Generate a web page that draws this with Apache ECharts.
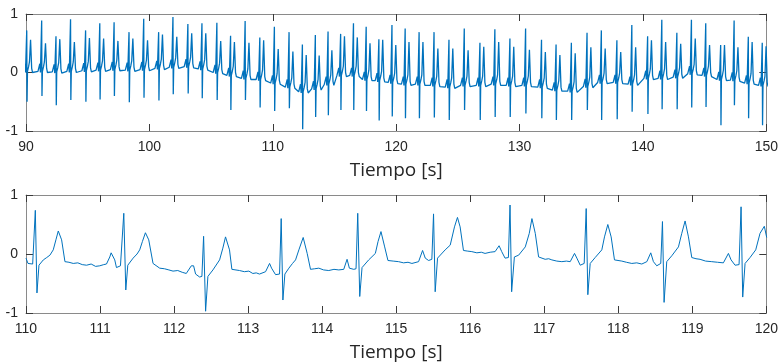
<!DOCTYPE html>
<html><head><meta charset="utf-8">
<script src="https://cdn.jsdelivr.net/npm/echarts/dist/echarts.min.js"></script>
<style>html,body{margin:0;padding:0;background:#fff}#c{width:781px;height:364px}</style>
</head><body><div id="c"></div>
<script>
// ---- Top panel (90-150 s): one entry per heartbeat ----
const topBeatTime = [90.06,91.27,92.43,93.61,94.83,95.98,97.14,98.35,99.54,100.75,101.91,103.12,104.26,105.47,106.58,107.76,108.95,
  110.13,111.32,112.40,113.45,114.48,115.50,116.54,117.57,118.60,119.66,
  120.73,121.86,123.07,124.28,125.52,126.79,128.00,129.22,
  130.49,131.78,132.96,134.20,135.47,136.63,137.89,139.10,140.38,141.53,142.75,143.93,145.09,146.30,147.39,148.54,149.67];
const topBeatR = [0.72,0.89,0.62,0.91,0.72,0.84,0.86,0.69,0.92,0.69,0.95,0.83,0.84,0.85,0.63,0.88,0.60,
  0.78,0.69,0.48,0.64,0.70,0.66,0.84,0.78,0.57,0.81,
  0.75,0.69,0.69,0.56,0.75,0.51,0.74,0.58,
  0.75,0.56,0.48,0.51,0.68,0.72,0.55,0.81,0.62,0.90,0.68,0.90,0.84,0.47,0.89,0.61,0.51];
const topBeatS = [-0.50,-0.40,-0.56,-0.47,-0.50,-0.46,-0.40,-0.51,-0.43,-0.48,-0.37,-0.36,-0.44,-0.47,-0.64,-0.47,-0.60,
  -0.66,-0.61,-0.97,-0.76,-0.73,-0.64,-0.64,-0.66,-0.82,-0.75,
  -0.78,-0.78,-0.77,-0.81,-0.64,-0.81,-0.76,-0.76,
  -0.70,-0.78,-0.81,-0.81,-0.64,-0.81,-0.80,-0.67,-0.71,-0.63,-0.63,-0.60,-0.59,-0.90,-0.56,-0.78,-0.90];
const topBeatT = [0.56,0.50,0.57,0.52,0.59,0.58,0.54,0.58,0.55,0.65,0.61,0.67,0.67,0.54,0.52,0.51,0.55,
  0.40,0.36,0.30,0.29,0.38,0.62,0.60,0.50,0.56,0.47,
  0.52,0.52,0.41,0.41,0.38,0.44,0.52,0.44,
  0.39,0.35,0.30,0.33,0.43,0.41,0.35,0.43,0.55,0.52,0.49,0.58,0.47,0.47,0.43,0.52,0.45];
const topBeatBase = [0.02,0.02,0.01,0.02,0.03,0.04,0.05,0.04,0.05,0.07,0.09,0.10,0.06,0.00,-0.05,-0.10,-0.12,
  -0.18,-0.25,-0.33,-0.28,-0.20,-0.05,-0.05,-0.12,-0.14,-0.17,
  -0.20,-0.20,-0.22,-0.25,-0.22,-0.22,-0.20,-0.22,
  -0.22,-0.25,-0.30,-0.32,-0.24,-0.17,-0.17,-0.20,-0.10,-0.10,-0.08,-0.02,-0.05,-0.12,-0.13,-0.18,-0.22];

// ---- Bottom panel (110-120 s): polyline vertices ----
const bottomTime = [110.000,110.027,110.054,110.090,110.108,110.126,110.148,110.175,110.234,110.280,110.323,110.368,110.404,110.436,110.481,110.526,110.580,110.638,110.700,110.760,110.818,110.880,110.940,110.997,111.050,111.087,111.132,111.150,111.168,111.199,111.222,111.276,111.303,111.321,111.348,111.375,111.447,111.500,111.536,111.572,111.613,111.658,111.716,111.806,111.870,111.930,111.986,112.050,112.110,112.165,112.233,112.264,112.291,112.345,112.376,112.399,112.426,112.457,112.525,112.615,112.659,112.695,112.749,112.781,112.884,112.950,113.010,113.064,113.110,113.154,113.236,113.290,113.317,113.371,113.425,113.447,113.470,113.497,113.551,113.600,113.641,113.686,113.744,113.798,113.843,113.900,113.955,114.020,114.090,114.160,114.225,114.292,114.337,114.368,114.427,114.458,114.481,114.508,114.539,114.629,114.719,114.755,114.795,114.845,114.889,114.960,115.033,115.100,115.160,115.213,115.303,115.357,115.393,115.438,115.482,115.505,115.527,115.559,115.662,115.730,115.788,115.828,115.864,115.909,115.960,116.022,116.090,116.150,116.201,116.270,116.336,116.390,116.426,116.471,116.516,116.538,116.560,116.597,116.654,116.744,116.798,116.834,116.879,116.924,117.013,117.060,117.103,117.170,117.238,117.300,117.351,117.409,117.441,117.486,117.540,117.567,117.589,117.621,117.688,117.778,117.814,117.859,117.904,117.949,118.048,118.110,118.183,118.250,118.318,118.386,118.439,118.475,118.520,118.574,118.597,118.619,118.655,118.723,118.813,118.858,118.903,118.948,118.993,119.050,119.105,119.180,119.263,119.340,119.420,119.488,119.524,119.578,119.632,119.659,119.681,119.713,119.780,119.857,119.915,119.973,120.005];
const bottomValue = [-0.07,-0.16,-0.19,-0.17,-0.19,0.74,-0.66,-0.19,-0.10,-0.06,-0.02,0.07,0.24,0.39,0.24,-0.13,-0.14,-0.16,-0.15,-0.18,-0.19,-0.17,-0.21,-0.20,-0.18,-0.17,-0.05,0.02,0.00,-0.10,-0.23,-0.20,-0.23,0.69,-0.61,-0.19,-0.07,0.00,0.07,0.21,0.36,0.24,-0.16,-0.24,-0.25,-0.27,-0.29,-0.28,-0.31,-0.33,-0.20,-0.20,-0.34,-0.39,-0.38,0.30,-0.97,-0.38,-0.27,-0.10,0.10,0.29,0.07,-0.26,-0.28,-0.30,-0.29,-0.33,-0.32,-0.34,-0.30,-0.16,-0.24,-0.35,-0.34,0.60,-0.78,-0.34,-0.24,-0.16,-0.10,0.07,0.28,0.01,-0.26,-0.25,-0.24,-0.27,-0.28,-0.26,-0.27,-0.26,-0.09,-0.24,-0.26,-0.25,0.69,-0.72,-0.23,-0.10,0.01,0.21,0.38,0.12,-0.11,-0.12,-0.13,-0.15,-0.14,-0.16,-0.13,0.06,-0.07,-0.11,-0.09,0.68,-0.64,-0.07,0.07,0.15,0.46,0.62,0.46,0.06,0.05,0.04,0.02,0.03,0.01,0.03,0.04,0.14,0.04,-0.07,-0.06,0.83,-0.64,-0.05,-0.02,0.12,0.35,0.60,0.35,-0.05,-0.09,-0.08,-0.10,-0.12,-0.13,-0.12,-0.13,0.01,-0.07,-0.19,-0.16,0.77,-0.69,-0.16,-0.06,0.07,0.29,0.50,0.29,-0.10,-0.12,-0.14,-0.16,-0.15,-0.17,-0.13,0.02,-0.13,-0.20,-0.16,0.55,-0.82,-0.13,-0.03,0.12,0.35,0.56,0.29,-0.06,-0.08,-0.09,-0.12,-0.13,-0.14,-0.15,0.01,-0.10,-0.19,-0.18,0.80,-0.73,-0.16,-0.06,0.07,0.35,0.47,0.28];

const topXTicks = [90, 150, 10];
const bottomXTicks = [110, 120, 1];
const yTicks = [-1, 1, 1];
const xTitle = 'Tiempo [s]';

// Beat waveform template (time offset from R, which beat value, added offset)
const beatShape = [[-0.30,'B',0],[-0.20,'B',0.02],[-0.15,'B',0.13],[-0.10,'B',-0.02],[-0.03,'B',-0.03],
  [0,'R',0],[0.025,'S',0],[0.06,'B',0],[0.15,'B',0.08],[0.22,'B',0.16],[0.31,'T',0],[0.40,'B',0.05],[0.47,'B',-0.02]];
const topData = [];
topBeatTime.forEach((t, i) => {
  const vals = {B: topBeatBase[i], R: topBeatR[i], S: topBeatS[i], T: topBeatT[i]};
  beatShape.forEach(([dt, k, off]) => topData.push([+(t + dt).toFixed(3), +(vals[k] + off).toFixed(3)]));
});
const bottomData = bottomTime.map((t, i) => [t, bottomValue[i]]);

const chart = echarts.init(document.getElementById('c'), null, {renderer: 'canvas'});
const LBL = {color: '#262626', fontSize: 14, fontFamily: 'Liberation Sans, Arial, sans-serif'};
const BOX = {show: true, onZero: false, lineStyle: {color: '#8a8a8a', width: 1}};
const TICK = {show: true, inside: true, length: 7, lineStyle: {color: '#3a3a3a', width: 1}};
function xAx(grid, ticks, pos, withLabels) {
  return {
    type: 'value', gridIndex: grid, position: pos, min: ticks[0], max: ticks[1], interval: ticks[2],
    axisLine: BOX, axisTick: TICK,
    axisLabel: withLabels ? Object.assign({margin: 9}, LBL) : {show: false},
    splitLine: {show: false},
    name: withLabels ? xTitle : '', nameLocation: 'middle', nameGap: 30,
    nameTextStyle: {color: '#262626', fontSize: 19, fontFamily: 'Open Sans, sans-serif'}
  };
}
function yAx(grid, pos, withLabels) {
  return {
    type: 'value', gridIndex: grid, position: pos, min: yTicks[0], max: yTicks[1], interval: yTicks[2],
    axisLine: BOX, axisTick: TICK,
    axisLabel: withLabels ? Object.assign({margin: 8}, LBL) : {show: false},
    splitLine: {show: false}
  };
}
chart.setOption({
  animation: false,
  backgroundColor: '#fff',
  grid: [
    {left: 26, top: 14, width: 742, height: 117, show: false},
    {left: 26, top: 195, width: 742, height: 118, show: false}
  ],
  xAxis: [xAx(0, topXTicks, 'bottom', true), xAx(0, topXTicks, 'top', false),
          xAx(1, bottomXTicks, 'bottom', true), xAx(1, bottomXTicks, 'top', false)],
  yAxis: [yAx(0, 'left', true), yAx(0, 'right', false), yAx(1, 'left', true), yAx(1, 'right', false)],
  series: [
    {type: 'line', xAxisIndex: 0, yAxisIndex: 0, data: topData, showSymbol: false, symbol: 'none',
     lineStyle: {color: '#0072BD', width: 1.3}, clip: true},
    {type: 'line', xAxisIndex: 2, yAxisIndex: 2, data: bottomData, showSymbol: false, symbol: 'none',
     lineStyle: {color: '#0072BD', width: 1}, clip: true}
  ]
});
</script>
</body></html>
